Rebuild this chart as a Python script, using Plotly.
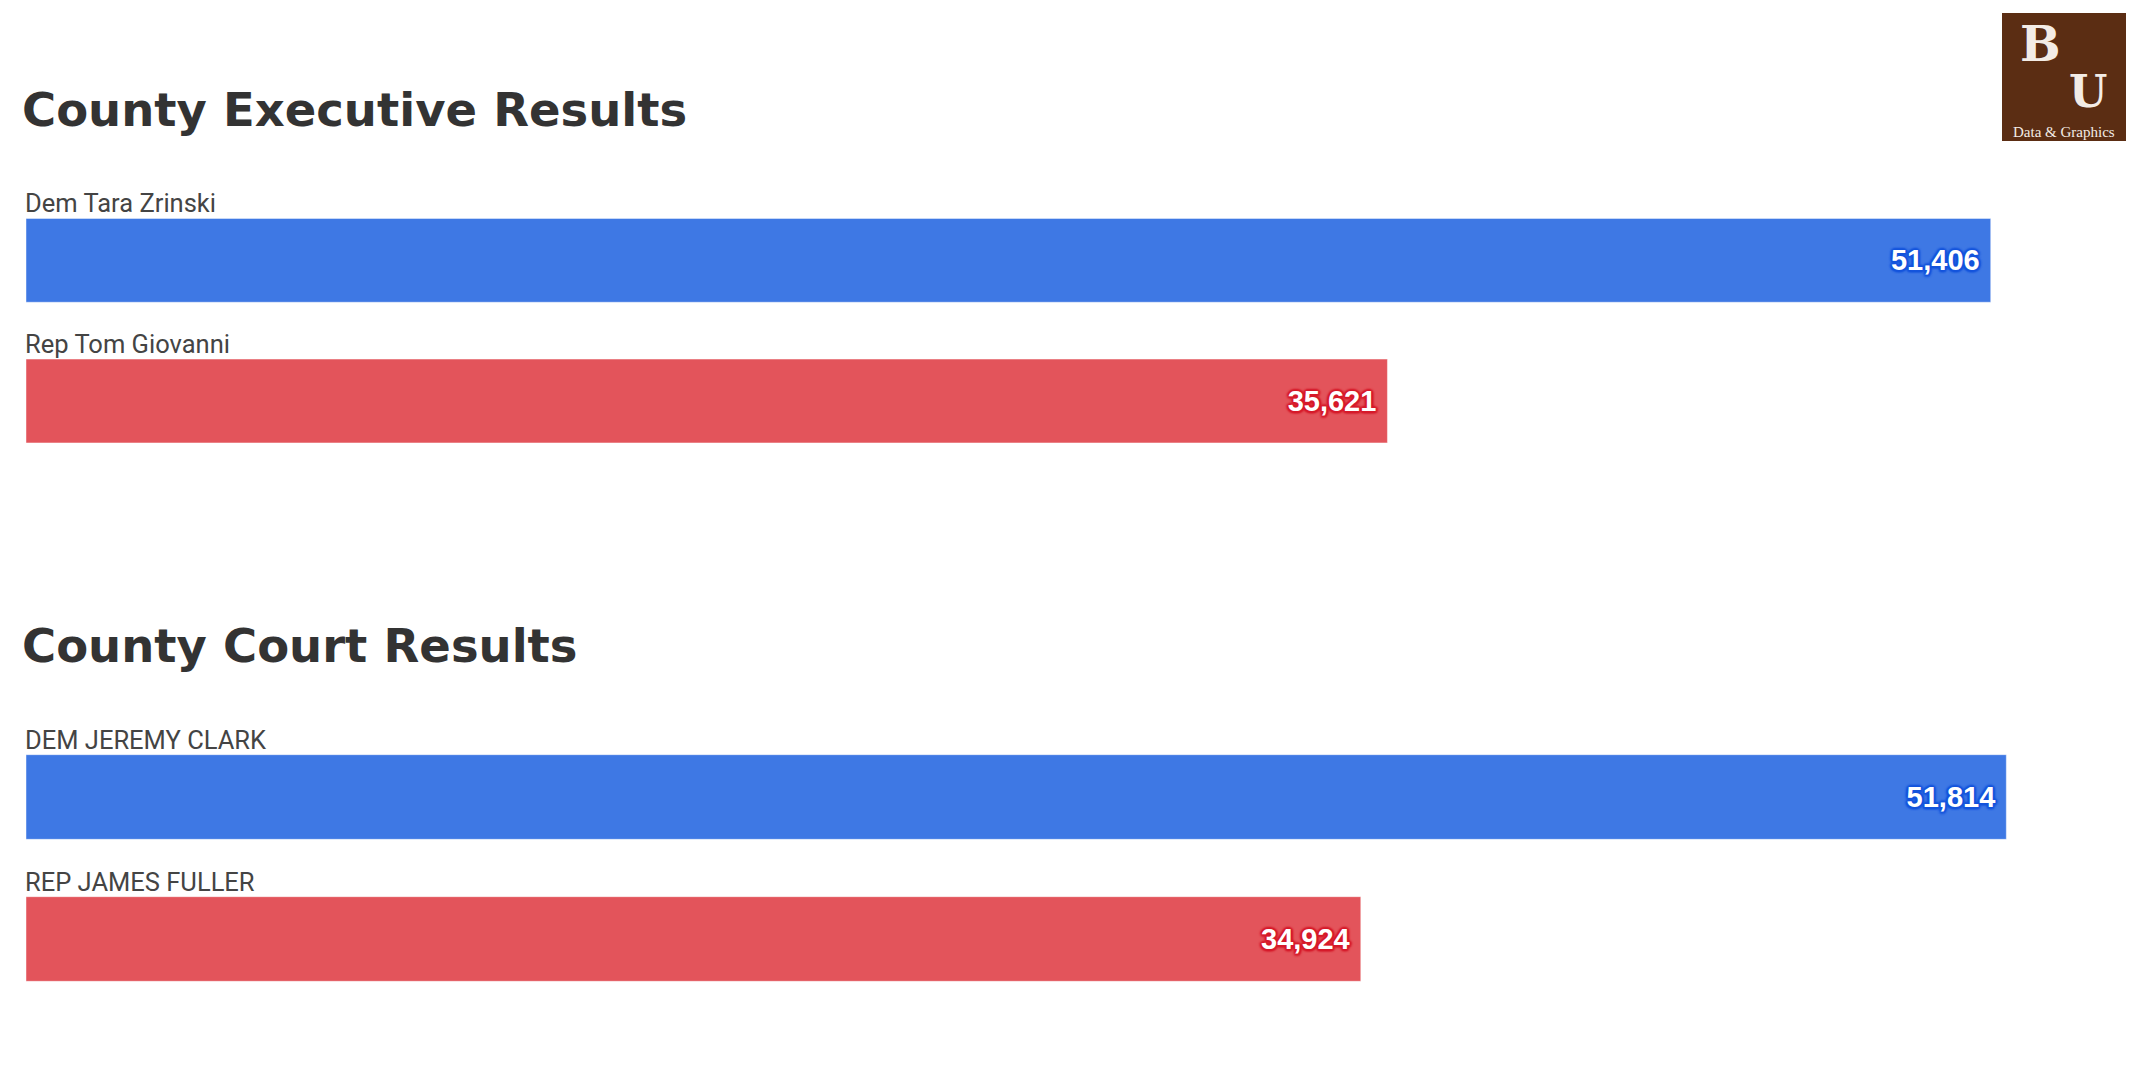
import plotly.graph_objects as go

# ---- data ----
exec_candidates = ["Dem Tara Zrinski", "Rep Tom Giovanni"]
exec_votes = [51406, 35621]
court_candidates = ["DEM JEREMY CLARK", "REP JAMES FULLER"]
court_votes = [51814, 34924]
party_colors = ["#3e78e4", "#e3545b"]
shadow_colors = ["#1454dc", "#d61a2a"]
titles = ["County Executive Results", "County Court Results"]

W, H = 2156, 1078
OFF = 8  # page body margin offset
X_MAX = 55050


def px_x(p):
    return (p - OFF) / W


def px_y(p):
    return 1 - (p - OFF) / H


def shadow(c):
    return ", ".join(f"{dx}px {dy}px 2px {c}" for dx, dy in
                     [(1.5, 1.5), (-1.5, -1.5), (1.5, -1.5), (-1.5, 1.5),
                      (0, 2), (0, -2), (2, 0), (-2, 0)])


fig = go.Figure()

groups = [(exec_candidates, exec_votes, "x", "y"),
          (court_candidates, court_votes, "x2", "y2")]

for cands, votes, xa, ya in groups:
    for i, (c, v) in enumerate(zip(cands, votes)):
        fig.add_trace(go.Bar(
            x=[v], y=[c], orientation="h", xaxis=xa, yaxis=ya,
            marker=dict(color=party_colors[i],
                        line=dict(color="rgba(255,255,255,0.45)", width=1)),
            text=[f"{v:,}"], texttemplate="%{text}\u00a0",
            textposition="inside", insidetextanchor="end",
            textfont=dict(family="Liberation Sans, Arial, sans-serif", size=29,
                          color="white", weight="bold",
                          shadow=shadow(shadow_colors[i])),
            cliponaxis=False, showlegend=False, hoverinfo="skip",
        ))
        fig.add_annotation(
            x=0, y=c, xref=xa, yref=ya, text=c, showarrow=False,
            xanchor="left", yanchor="middle", yshift=57, xshift=-3,
            font=dict(family="Roboto, sans-serif", size=25.5, color="#444444"),
        )

x_dom = [px_x(26), px_x(2130)]
y1_dom = [px_y(475), px_y(190)]
y2_dom = [px_y(1013), px_y(726)]

axis_common = dict(showgrid=False, zeroline=False, showticklabels=False,
                   showline=False, ticks="")
fig.update_layout(
    width=W, height=H,
    margin=dict(l=0, r=0, t=0, b=0),
    paper_bgcolor="white", plot_bgcolor="white",
    bargap=0.404,
    xaxis=dict(domain=x_dom, range=[0, X_MAX], anchor="y", **axis_common),
    yaxis=dict(domain=y1_dom, autorange="reversed", anchor="x",
               type="category", **axis_common),
    xaxis2=dict(domain=x_dom, range=[0, X_MAX], anchor="y2", **axis_common),
    yaxis2=dict(domain=y2_dom, autorange="reversed", anchor="x2",
                type="category", **axis_common),
)

# section titles
for t, ypx in zip(titles, [110, 646]):
    fig.add_annotation(
        x=px_x(20), y=px_y(ypx), xref="paper", yref="paper", text=f"<b>{t}</b>",
        showarrow=False, xanchor="left", yanchor="middle",
        font=dict(family="DejaVu Sans, sans-serif", size=46.5, color="#333333"),
    )

# logo
fig.add_shape(type="rect", xref="paper", yref="paper",
              x0=px_x(2002), x1=px_x(2126), y0=px_y(141), y1=px_y(13),
              fillcolor="#5b2d13", line=dict(width=0))
fig.add_annotation(x=px_x(2040), y=px_y(14), xref="paper", yref="paper",
                   text="<b>B</b>", showarrow=False, xanchor="center", yanchor="top",
                   font=dict(family="DejaVu Serif, serif", size=48, color="#f3ece6"))
fig.add_annotation(x=px_x(2088), y=px_y(64), xref="paper", yref="paper",
                   text="<b>U</b>", showarrow=False, xanchor="center", yanchor="top",
                   font=dict(family="DejaVu Serif, serif", size=44, color="#f3ece6"))
fig.add_annotation(x=px_x(2064), y=px_y(132), xref="paper", yref="paper",
                   text="Data &amp; Graphics", showarrow=False,
                   xanchor="center", yanchor="middle",
                   font=dict(family="Liberation Serif, serif", size=15, color="#f3ece6"))

fig.write_html("out.html")
